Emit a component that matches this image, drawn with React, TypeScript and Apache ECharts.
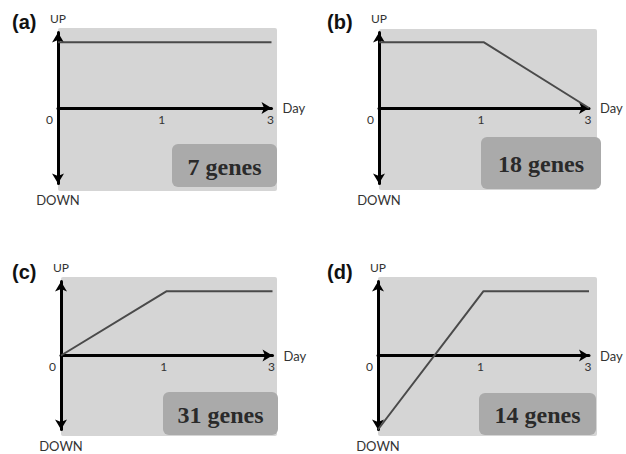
import React, { useEffect, useRef } from "react";
import * as echarts from "echarts";

// ---- data ----
const dayLabels = ["0", "1", "3"];
const panelLetters = ["(a)", "(b)", "(c)", "(d)"];
const geneCounts = [7, 18, 31, 14];
const UP = 1;
const DOWN = -1.15;
const profileA = [UP, UP, UP];
const profileB = [UP, UP, 0];
const profileC = [0, UP, UP];
const profileD = [DOWN, UP, UP];
const profiles = [profileA, profileB, profileC, profileD];

// ---- layout (pixels) ----
const grids = [
  { left: 58, top: 32.5, width: 213.5, height: 151 },
  { left: 379, top: 32.5, width: 210, height: 151 },
  { left: 61, top: 281.5, width: 211.5, height: 148 },
  { left: 378, top: 281.5, width: 211, height: 148 },
];
const panels = [
  { x: 58, y: 28, w: 219, h: 163 },
  { x: 379, y: 29, w: 218, h: 161 },
  { x: 61, y: 277, w: 216, h: 159 },
  { x: 378, y: 277, w: 219, h: 159 },
];
const boxes = [
  { x: 172, y: 144, w: 105, h: 43 },
  { x: 481, y: 137, w: 120, h: 52 },
  { x: 163, y: 392, w: 115, h: 43 },
  { x: 479, y: 393, w: 117, h: 42 },
];
const letterPos = [
  { x: 12, y: 22 },
  { x: 327, y: 22 },
  { x: 12, y: 272 },
  { x: 327, y: 272 },
];

const SANS = "Lato, 'Liberation Sans', sans-serif";

export default function App() {
  const ref = useRef<HTMLDivElement>(null);
  useEffect(() => {
    if (!ref.current) return;
    const chart = echarts.init(ref.current, undefined, { renderer: "svg" });
    const graphic: any[] = [];
    panels.forEach((p) => {
      graphic.push({
        type: "rect",
        z: -10,
        silent: true,
        shape: { x: p.x, y: p.y, width: p.w, height: p.h, r: 2 },
        style: { fill: "#d5d5d5" },
      });
    });
    boxes.forEach((b, i) => {
      graphic.push({
        type: "rect",
        z: 5,
        shape: { x: b.x, y: b.y, width: b.w, height: b.h, r: 6 },
        style: { fill: "#aaaaaa" },
      });
      graphic.push({
        type: "text",
        z: 6,
        x: b.x + b.w / 2,
        y: b.y + b.h / 2 + 1,
        style: {
          text: `${geneCounts[i]} genes`,
          fill: "#2a2a2a",
          font: "bold 24px 'Liberation Serif', 'Times New Roman', serif",
          textAlign: "center",
          textVerticalAlign: "middle",
        },
      });
    });
    letterPos.forEach((l, i) => {
      graphic.push({
        type: "text",
        x: l.x,
        y: l.y,
        style: {
          text: panelLetters[i],
          fill: "#111",
          font: "bold 20px 'Liberation Sans', Arial, sans-serif",
          textAlign: "left",
          textVerticalAlign: "middle",
        },
      });
    });
    grids.forEach((g) => {
      graphic.push({
        type: "text",
        x: g.left,
        y: g.top + g.height + 4.5 + 12,
        style: {
          text: "DOWN",
          fill: "#333",
          font: `13px ${SANS}`,
          textAlign: "center",
          textVerticalAlign: "middle",
        },
      });
    });

    const labelRich = {
      l0: { padding: [0, 17, 0, 0], color: "#333", fontSize: 12, fontFamily: SANS },
      l1: { padding: [0, 6, 0, 0], color: "#333", fontSize: 12, fontFamily: SANS },
      l2: { padding: [0, 2, 0, 0], color: "#333", fontSize: 12, fontFamily: SANS },
    };

    const option: any = {
      animation: false,
      grid: grids.map((g) => ({ ...g, containLabel: false })),
      xAxis: grids.map((g, i) => ({
        gridIndex: i,
        type: "category",
        data: dayLabels,
        boundaryGap: false,
        position: "bottom",
        offset: -g.height / 2,
        name: "Day",
        nameLocation: "end",
        nameGap: 11,
        nameTextStyle: { color: "#333", fontSize: 13, fontFamily: SANS },
        axisLine: {
          onZero: false,
          symbol: ["none", "arrow"],
          symbolSize: [9, 10],
          lineStyle: { color: "#000", width: 3 },
        },
        axisTick: { show: false },
        splitLine: { show: false },
        axisLabel: {
          color: "#333",
          fontSize: 12,
          fontFamily: SANS,
          margin: 5,
          formatter: (v: string, idx: number) => `{l${idx}|${v}}`,
          rich: labelRich,
        },
      })),
      yAxis: grids.map((_, i) => ({
        gridIndex: i,
        type: "value",
        min: DOWN,
        max: -DOWN,
        name: "UP",
        nameLocation: "end",
        nameGap: 8,
        nameTextStyle: { color: "#333", fontSize: 12, fontFamily: SANS },
        axisLine: {
          show: true,
          symbol: ["arrow", "arrow"],
          symbolSize: [9, 10],
          lineStyle: { color: "#000", width: 3 },
        },
        axisTick: { show: false },
        splitLine: { show: false },
        axisLabel: { show: false },
      })),
      series: profiles.map((p, i) => ({
        type: "line",
        xAxisIndex: i,
        yAxisIndex: i,
        data: p,
        symbol: "none",
        clip: false,
        lineStyle: { color: "#4a4a4a", width: 2 },
        z: 1,
      })),
      graphic,
    };
    chart.setOption(option);
    return () => chart.dispose();
  }, []);
  return (
    <div
      ref={ref}
      style={{ position: "absolute", left: 0, top: 0, width: 626, height: 454, background: "#fff" }}
    />
  );
}
